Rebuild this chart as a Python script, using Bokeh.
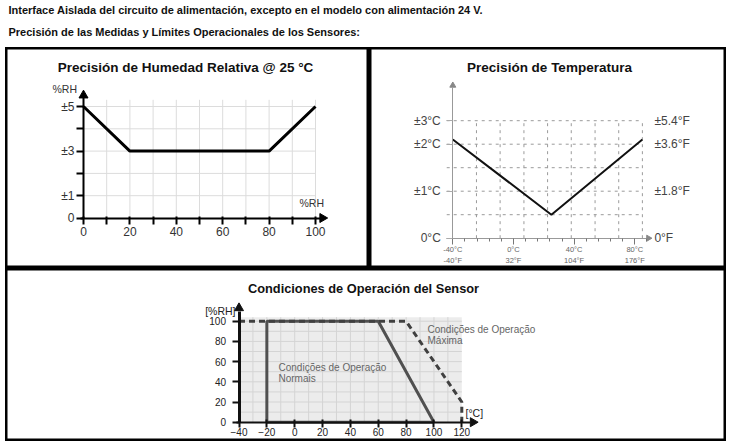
import numpy as np
from bokeh.plotting import figure
from bokeh.models import LinearAxis, FixedTicker, Label, Range1d
from bokeh.layouts import column, row
from bokeh.embed import file_html
from bokeh.resources import INLINE

# ---------------- data ----------------
HEADER_LINE_1 = "Interface Aislada del circuito de alimentación, excepto en el modelo con alimentación 24 V."
HEADER_LINE_2 = "Precisión de las Medidas y Límites Operacionales de los Sensores:"

# Chart 1: relative humidity accuracy
RH_TITLE = "Precisión de Humedad Relativa @ 25 °C"
RH_X = [0, 20, 80, 100]            # %RH
RH_ACC = [5, 3, 3, 5]              # ± %RH
RH_XTICKS = [0, 20, 40, 60, 80, 100]
RH_XMINOR = [10, 30, 50, 70, 90]
RH_YTICKS = [0, 1, 3, 5]
RH_YMINOR = [2, 4]
RH_YLABELS = {0: "0", 1: "±1", 3: "±3", 5: "±5"}
RH_XGRID = [10, 20, 30, 40, 50, 60, 70, 80, 90, 100]
RH_YGRID = [1, 2, 3, 4, 5]
RH_AXIS_LABEL = "%RH"

# Chart 2: temperature accuracy
T_TITLE = "Precisión de Temperatura"
T_X = [-40, 25, 85]                # °C
T_ACC = [2.1, 0.5, 2.1]            # ± °C
T_XTICKS = [-40, 0, 40, 80]
T_XMINOR = [-32, -24, -16, -8, 8, 16, 24, 32, 48, 56, 64, 72, 88]
T_XLABELS = {-40: "-40°C\n-40°F", 0: "0°C\n32°F", 40: "40°C\n104°F", 80: "80°C\n176°F"}
T_YTICKS = [0, 1, 2, 2.5]
T_YLABELS_C = {0: "0°C", 1: "±1°C", 2: "±2°C", 2.5: "±3°C"}
T_YLABELS_F = {0: "0°F", 1: "±1.8°F", 2: "±3.6°F", 2.5: "±5.4°F"}
T_XGRID = [-24.4, -8.8, 6.9, 22.5, 38.1, 53.8, 69.4, 85]
T_YGRID = [0.5, 1, 1.5, 2, 2.5]

# Chart 3: operating conditions
OP_TITLE = "Condiciones de Operación del Sensor"
NORMAL_T = [-20, -20, 60, 100, -20]
NORMAL_RH = [0, 100, 100, 0, 0]
MAX_T = [-40, 80, 120, 120]
MAX_RH = [100, 100, 20, 0]
OP_XTICKS = [-40, -20, 0, 20, 40, 60, 80, 100, 120]
OP_YTICKS = [0, 20, 40, 60, 80, 100]
OP_XGRID = [-30, -20, -10, 0, 10, 20, 30, 40, 50, 60, 70, 80, 90, 100, 110]
OP_YGRID = [10, 20, 30, 40, 50, 60, 70, 80, 90, 100]
OP_NORMAL_TEXT = ["Condições de Operação", "Normais"]
OP_MAX_TEXT = ["Condições de Operação", "Máxima"]
OP_YLABEL = "[%RH]"
OP_XLABEL = "[°C]"

# ---------------- styling helpers ----------------
SANS = "'Liberation Sans', Arial, sans-serif"


def cell_figure(w, h, xmap, ymap):
    """xmap=(px0, v0, px1, v1) pixel-from-left; ymap=(py0, v0, py1, v1) pixel-from-top."""
    px0, xv0, px1, xv1 = xmap
    kx = (px1 - px0) / (xv1 - xv0)
    py0, yv0, py1, yv1 = ymap
    ky = (py0 - py1) / (yv1 - yv0)
    p = figure(width=w, height=h,
               x_range=Range1d(xv0 - px0 / kx, xv0 + (w - px0) / kx),
               y_range=Range1d(yv0 - (h - py0) / ky, yv0 + py0 / ky),
               x_axis_location=None, y_axis_location=None,
               toolbar_location=None, output_backend="svg",
               min_border=0, title=None)
    p.grid.visible = False
    p.outline_line_color = "black"
    p.outline_line_width = 4
    p.background_fill_color = "white"
    p.border_fill_color = "white"

    def fx(px):
        return xv0 + (px - px0) / kx

    def fy(py):
        return yv0 + (py0 - py) / ky

    return p, fx, fy


def add_text(p, x, y, text, size, color="#222", font=SANS, style="normal",
             align="left", baseline="middle"):
    p.add_layout(Label(x=x, y=y, text=text, text_font=font,
                       text_font_size=f"{size}px", text_color=color,
                       text_font_style=style, text_align=align,
                       text_baseline=baseline))


def style_axis(ax, color, width, label_size, label_color, standoff,
               tick_in, tick_out, minor_in=0, minor_out=0, tick_color=None,
               tick_width=1):
    ax.axis_line_color = color
    ax.axis_line_width = width
    ax.major_tick_in = tick_in
    ax.major_tick_out = tick_out
    ax.minor_tick_in = minor_in
    ax.minor_tick_out = minor_out
    ax.major_tick_line_color = tick_color or color
    ax.minor_tick_line_color = tick_color or color
    ax.major_tick_line_width = tick_width
    ax.minor_tick_line_width = tick_width
    ax.major_label_text_font = SANS
    ax.major_label_text_font_size = f"{label_size}px"
    ax.major_label_text_color = label_color
    ax.major_label_standoff = standoff


# ---------------- header ----------------
hdr = figure(width=721, height=47, x_range=Range1d(0, 721), y_range=Range1d(47, 0),
             x_axis_location=None, y_axis_location=None, toolbar_location=None,
             output_backend="svg", min_border=0, title=None)
hdr.grid.visible = False
hdr.outline_line_color = None
add_text(hdr, 3, 9, HEADER_LINE_1, 11, color="#111", style="bold", baseline="alphabetic")
add_text(hdr, 3, 31, HEADER_LINE_2, 11, color="#111", style="bold")

# ---------------- chart 1 ----------------
p1, fx1, fy1 = cell_figure(364, 221, (78, 0, 310, 100), (170.5, 0, 59, 5))
add_text(p1, fx1(180), fy1(20), RH_TITLE, 13.5, color="#111", style="bold", align="center")
p1.segment(x0=RH_XGRID, y0=0, x1=RH_XGRID, y1=5.3, line_color="#dcdcdc", line_width=1)
p1.segment(x0=0, y0=RH_YGRID, x1=100, y1=RH_YGRID, line_color="#dcdcdc", line_width=1)
p1.line(RH_X, RH_ACC, line_color="black", line_width=3)

ax = LinearAxis(fixed_location=0, bounds=(-1.5, 102),
                ticker=FixedTicker(ticks=RH_XTICKS, minor_ticks=RH_XMINOR))
style_axis(ax, "black", 2, 12, "#333", 3, 2, 6, 2, 6, tick_width=2)
p1.add_layout(ax, "below")
ay = LinearAxis(fixed_location=0, bounds=(0, 5.4),
                ticker=FixedTicker(ticks=RH_YTICKS, minor_ticks=RH_YMINOR),
                major_label_overrides=RH_YLABELS)
style_axis(ay, "black", 2, 12, "#333", 2, 0, 7, 0, 7, tick_width=2)
p1.add_layout(ay, "left")
p1.scatter([103], [0], marker="triangle", angle=-np.pi / 2, size=9, color="black")
p1.scatter([0], [5.5], marker="triangle", size=9, color="black")
add_text(p1, fx1(47), fy1(41), RH_AXIS_LABEL, 10.5, color="#333")
add_text(p1, fx1(294), fy1(155), RH_AXIS_LABEL, 10.5, color="#333")

# ---------------- chart 2 ----------------
p2, fx2, fy2 = cell_figure(357, 221, (83.3, -40, 265.3, 80), (190.7, 0, 143.7, 1))
add_text(p2, fx2(180), fy2(20), T_TITLE, 13.5, color="#111", style="bold", align="center")
p2.segment(x0=T_XGRID, y0=0, x1=T_XGRID, y1=2.5, line_color="#9a9a9a",
           line_width=1, line_dash="3 4")
p2.segment(x0=-44, y0=T_YGRID, x1=85, y1=T_YGRID, line_color="#9a9a9a",
           line_width=1, line_dash="3 4")
p2.line(T_X, T_ACC, line_color="#111", line_width=2)

ax = LinearAxis(fixed_location=0, bounds=(-44, 88),
                ticker=FixedTicker(ticks=T_XTICKS, minor_ticks=T_XMINOR),
                major_label_overrides=T_XLABELS)
style_axis(ax, "#999", 1, 7.5, "#666", 1, 0, 6, 0, 3, tick_color="#777")
p2.add_layout(ax, "below")
ay = LinearAxis(fixed_location=-40, bounds=(0, 3.2),
                ticker=FixedTicker(ticks=T_YTICKS, minor_ticks=[]),
                major_label_overrides=T_YLABELS_C)
style_axis(ay, "#999", 1, 12, "#444", 6, 0, 6, tick_color="#aaa")
p2.add_layout(ay, "left")
ar = LinearAxis(fixed_location=85, ticker=FixedTicker(ticks=T_YTICKS, minor_ticks=[]),
                major_label_overrides=T_YLABELS_F)
style_axis(ar, None, 1, 12, "#444", 12, 0, 0)
ar.major_tick_line_color = None
ar.minor_tick_line_color = None
p2.add_layout(ar, "right")
p2.scatter([89], [0], marker="triangle", angle=-np.pi / 2, size=6, color="#888")
p2.scatter([-40], [3.25], marker="triangle", size=6, color="#888")

# ---------------- chart 3 ----------------
p3, fx3, fy3 = cell_figure(721, 173, (233.5, -40, 456.3, 120), (153.7, 0, 52.7, 100))
add_text(p3, fx3(358), fy3(20), OP_TITLE, 12.8, color="#111", style="bold", align="center")
p3.quad(left=OP_XTICKS[0], right=OP_XTICKS[-1], bottom=0, top=104,
        fill_color="#ececec", line_color=None)
p3.segment(x0=OP_XGRID, y0=0, x1=OP_XGRID, y1=104, line_color="#d4d4d4", line_width=1)
p3.segment(x0=OP_XTICKS[0], y0=OP_YGRID, x1=OP_XTICKS[-1], y1=OP_YGRID,
           line_color="#d4d4d4", line_width=1)
p3.line(NORMAL_T, NORMAL_RH, line_color="#505050", line_width=3)
p3.line(MAX_T, MAX_RH, line_color="#404040", line_width=3, line_dash="6 4")

ax = LinearAxis(fixed_location=0, bounds=(-42, 126),
                ticker=FixedTicker(ticks=OP_XTICKS, minor_ticks=[]))
style_axis(ax, "#111", 2, 10, "#222", 1, 3, 5, tick_width=2)
p3.add_layout(ax, "below")
ay = LinearAxis(fixed_location=-40, bounds=(0, 110),
                ticker=FixedTicker(ticks=OP_YTICKS, minor_ticks=[]))
style_axis(ay, "#111", 3, 10, "#222", 6, 0, 7, tick_width=2)
p3.add_layout(ay, "left")
p3.scatter([128], [0], marker="triangle", angle=-np.pi / 2, size=9, color="#111")
p3.scatter([-40], [113], marker="triangle", size=9, color="#111")
add_text(p3, fx3(230), fy3(42), OP_YLABEL, 10.5, align="right")
add_text(p3, fx3(460), fy3(144), OP_XLABEL, 10.5)
add_text(p3, fx3(273), fy3(98.7), OP_NORMAL_TEXT[0], 10, color="#666")
add_text(p3, fx3(273), fy3(110.3), OP_NORMAL_TEXT[1], 10, color="#666")
add_text(p3, fx3(422), fy3(61.3), OP_MAX_TEXT[0], 10, color="#666")
add_text(p3, fx3(422), fy3(72), OP_MAX_TEXT[1], 10, color="#666")

layout = column(hdr, row(p1, p2), p3, margin=(0, 0, 0, 5))
open("out.html", "w").write(file_html(layout, INLINE))
